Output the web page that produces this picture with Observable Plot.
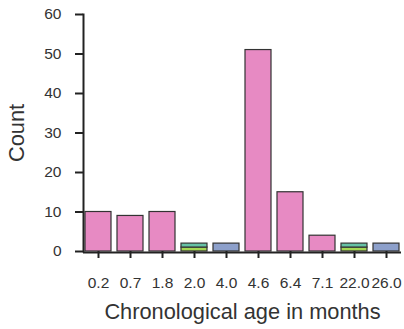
<!DOCTYPE html>
<html>
<head>
<meta charset="utf-8">
<script src="https://cdn.jsdelivr.net/npm/d3@7"></script>
<script src="https://cdn.jsdelivr.net/npm/@observablehq/plot@0.6"></script>
<style>
  html, body { margin: 0; padding: 0; background: #fff; }
  svg { font-family: "Liberation Sans", Arial, sans-serif; }
  g[aria-label="x-axis tick label"] text, g[aria-label="y-axis tick label"] text,
  g[aria-label="x-axis tick label"], g[aria-label="y-axis tick label"] { font-size: 15.5px !important; }
</style>
</head>
<body>
<div id="chart"></div>
<script>
const categories = ["0.2", "0.7", "1.8", "2.0", "4.0", "4.6", "6.4", "7.1", "22.0", "26.0"];
const limeCounts = [0, 0, 0, 1, 0, 0, 0, 0, 1, 0];
const tealCounts = [0, 0, 0, 1, 0, 0, 0, 0, 1, 0];
const blueCounts = [0, 0, 0, 0, 2, 0, 0, 0, 0, 2];
const pinkCounts = [10, 9, 10, 0, 0, 51, 15, 4, 0, 0];
const yTicks = [0, 10, 20, 30, 40, 50, 60];
const groups = ["Group A", "Group B", "Group C", "Group D"];
const colors = ["#a6d854", "#66c2a5", "#8da0cb", "#e78ac3"];

const seriesList = [limeCounts, tealCounts, blueCounts, pinkCounts];
const rows = [];
groups.forEach((g, gi) => {
  categories.forEach((c, i) => {
    const v = seriesList[gi][i];
    if (v > 0) rows.push({age: c, count: v, group: g});
  });
});

const chart = Plot.plot({
  width: 404,
  height: 329,
  marginLeft: 83,
  marginRight: 3,
  marginTop: 14,
  marginBottom: 78,
  style: {fontFamily: "Liberation Sans, Arial, sans-serif", fontSize: "15.5px", color: "#333", background: "#fff"},
  x: {domain: categories, paddingInner: 0.2, paddingOuter: 0.06, label: null},
  y: {domain: [0, 60], label: null},
  color: {type: "ordinal", domain: groups, range: colors},
  marks: [
    Plot.barY(rows, {x: "age", y: "count", fill: "group", stroke: "#333", strokeWidth: 1.2, order: null}),
    Plot.axisY({ticks: yTicks, tickSize: 8, tickPadding: 14, fontSize: 15.5, strokeWidth: 2, stroke: "#222", fill: "#333", label: null}),
    Plot.axisX({tickSize: 7, tickPadding: 18, fontSize: 15.5, strokeWidth: 2, stroke: "#222", fill: "#333", label: null}),
    Plot.frame({anchor: "left", stroke: "#222", strokeWidth: 2}),
    Plot.ruleY([0], {stroke: "#222", strokeWidth: 2, dy: 1}),
    Plot.text(["Chronological age in months"], {frameAnchor: "bottom", dy: 67, fontSize: 21.8, fill: "#333", textAnchor: "middle"}),
    Plot.text(["Count"], {frameAnchor: "left", dx: -66, rotate: -90, fontSize: 21.8, fill: "#333", textAnchor: "middle"})
  ]
});
document.getElementById("chart").appendChild(chart);
</script>
</body>
</html>
